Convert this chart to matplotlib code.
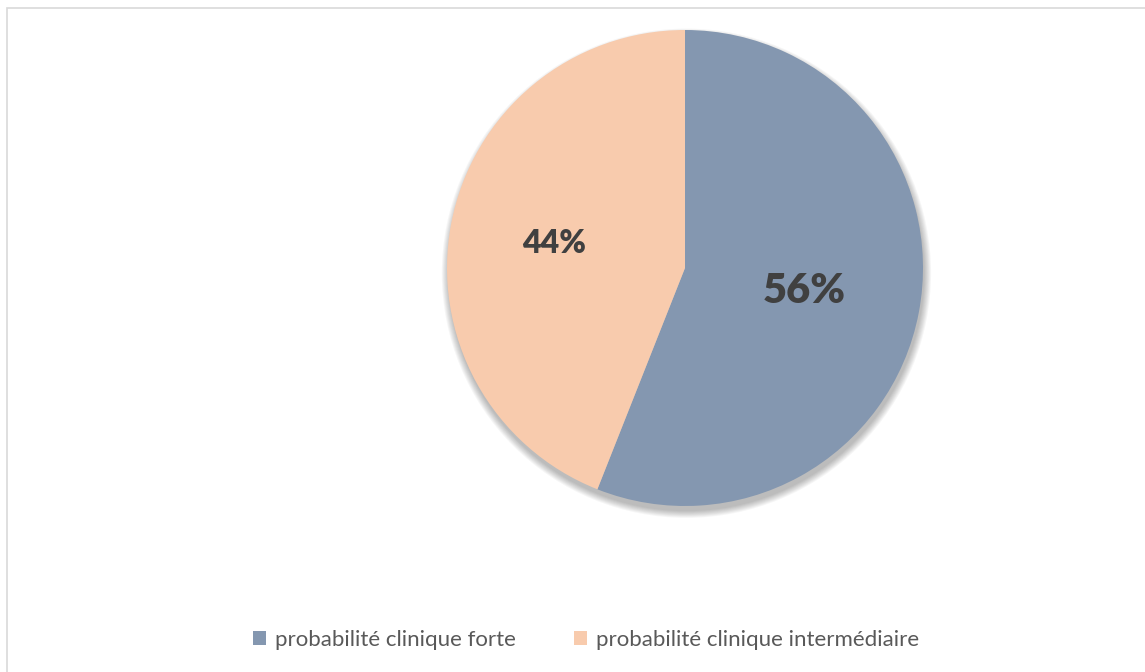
import matplotlib.pyplot as plt
import matplotlib.patches as patches
import numpy as np

labels = ['probabilité clinique forte', 'probabilité clinique intermédiaire']
values = [56, 44]
colors = ['#8497B0', '#F8CBAD']
pct_sizes = [30, 23]
pct_dist = [0.51, 0.56]

plt.rcParams['font.family'] = ['Lato', 'DejaVu Sans']

W, H = 1145, 672
fig = plt.figure(figsize=(W / 100, H / 100), dpi=100)

# outer chart border (only top/left edges visible in the crop)
fig.patches.append(patches.Rectangle((7 / W, -0.1), 1.2, 1.1 - 8 / H, transform=fig.transFigure,
                                     fill=False, edgecolor='#D9D9D9', linewidth=1.2))

cx, cy, r = 685, 268, 238
pad = 1.05
ax = fig.add_axes([(cx - r * pad) / W, (H - cy - r * pad) / H, 2 * r * pad / W, 2 * r * pad / H])

# soft shadow, mostly below the pie
for i in range(8):
    ax.add_patch(patches.Circle((0.006, -0.022), 1.0 + 0.004 * i, facecolor='black',
                                alpha=0.035, linewidth=0, zorder=0))

wedges, _ = ax.pie(values, colors=colors, startangle=90, counterclock=False,
                   radius=1.0, wedgeprops=dict(linewidth=0))
for w in wedges:
    w.set_zorder(2)
ax.set_xlim(-pad, pad)
ax.set_ylim(-pad, pad)
ax.set_aspect('equal')
ax.axis('off')

for w, v, s, d in zip(wedges, values, pct_sizes, pct_dist):
    ang = np.deg2rad((w.theta1 + w.theta2) / 2)
    ax.text(d * np.cos(ang), d * np.sin(ang), f'{v}%', ha='center', va='center',
            fontsize=s, fontweight='heavy', color='#404040', zorder=3)

handles = [patches.Patch(facecolor=c, edgecolor='none') for c in colors]
fig.legend(handles, labels, loc='center', bbox_to_anchor=(586 / W, 1 - 640 / H),
           ncol=2, frameon=False, fontsize=16, handlelength=0.6, handleheight=0.6,
           handletextpad=0.4, columnspacing=2.6, labelcolor='#595959')

fig.savefig('out.png', dpi=100)
